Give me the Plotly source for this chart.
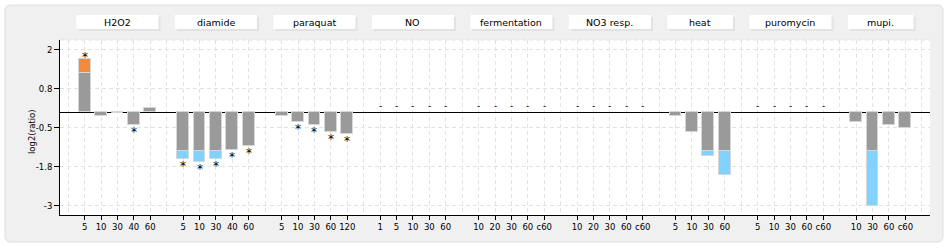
import plotly.graph_objects as go

# ---------------- data ----------------
groups = ["H2O2", "diamide", "paraquat", "NO", "fermentation",
          "NO3 resp.", "heat", "puromycin", "mupi."]

h2o2_times = ["5", "10", "30", "40", "60"]
h2o2_vals = [1.71, -0.12, -0.03, -0.40, 0.13]
h2o2_sig = [1, 0, 0, 1, 0]

diamide_times = ["5", "10", "30", "40", "60"]
diamide_vals = [-1.50, -1.60, -1.50, -1.21, -1.10]
diamide_sig = [1, 1, 1, 1, 1]

paraquat_times = ["5", "10", "30", "60", "120"]
paraquat_vals = [-0.11, -0.32, -0.40, -0.62, -0.70]
paraquat_sig = [0, 1, 1, 1, 1]

no_times = ["1", "5", "10", "30", "60"]
no_vals = [None, None, None, None, None]
no_sig = [0, 0, 0, 0, 0]

ferm_times = ["10", "20", "30", "60", "c60"]
ferm_vals = [None, None, None, None, None]
ferm_sig = [0, 0, 0, 0, 0]

no3_times = ["10", "20", "30", "60", "c60"]
no3_vals = [None, None, None, None, None]
no3_sig = [0, 0, 0, 0, 0]

heat_times = ["5", "10", "30", "60"]
heat_vals = [-0.11, -0.62, -1.40, -2.01]
heat_sig = [0, 0, 0, 0]

puro_times = ["5", "10", "30", "60", "c60"]
puro_vals = [None, None, None, None, None]
puro_sig = [0, 0, 0, 0, 0]

mupi_times = ["10", "30", "60", "c60"]
mupi_vals = [-0.32, -3.00, -0.40, -0.51]
mupi_sig = [0, 0, 0, 0]

threshold = 1.26

y_tickvals = [2, 0.75, -0.5, -1.75, -3]
y_ticktext = ["2", "0.8", "-0.5", "-1.8", "-3"]

group_times = [h2o2_times, diamide_times, paraquat_times, no_times, ferm_times,
               no3_times, heat_times, puro_times, mupi_times]
group_vals = [h2o2_vals, diamide_vals, paraquat_vals, no_vals, ferm_vals,
              no3_vals, heat_vals, puro_vals, mupi_vals]
group_sig = [h2o2_sig, diamide_sig, paraquat_sig, no_sig, ferm_sig,
             no3_sig, heat_sig, puro_sig, mupi_sig]

# ---------------- layout of slots ----------------
W, H = 950, 250
L, R, T, B = 60, 20, 40, 35
PW, PH = W - L - R, H - T - B

xs, labels, vals, sigs = [], [], [], []
group_span = []
slot = 1
for times, v, s in zip(group_times, group_vals, group_sig):
    start = slot
    for t, vv, ss in zip(times, v, s):
        xs.append(slot)
        labels.append(t)
        vals.append(vv)
        sigs.append(ss)
        slot += 1
    group_span.append((start, slot - 1))
    slot += 1
x_max = slot - 1  # last blank slot
x_range = [-0.5, x_max + 0.5]
y_range = [-3.30, 2.32]
slot_px = PW / (x_range[1] - x_range[0])

GREY = "#9a9a9a"
ORANGE = "#f58a3a"
BLUE = "#82d2ff"
EDGE = "#d6d6d6"
FONT = "DejaVu Sans"

base_x, base_y, pos_x, pos_y, neg_x, neg_y = [], [], [], [], [], []
for x, v in zip(xs, vals):
    if v is None:
        continue
    if abs(v) <= threshold:
        base_x.append(x); base_y.append(v)
    else:
        sgn = 1 if v > 0 else -1
        base_x.append(x); base_y.append(sgn * threshold)
        if v > 0:
            pos_x.append(x); pos_y.append(v - threshold)
        else:
            neg_x.append(x); neg_y.append(v + threshold)

fig = go.Figure()
bw = 0.72
for bx, by, col in [(base_x, base_y, GREY), (pos_x, pos_y, ORANGE), (neg_x, neg_y, BLUE)]:
    fig.add_trace(go.Bar(x=bx, y=by, width=bw, marker=dict(color=col, line=dict(color=EDGE, width=1)),
                         hoverinfo="skip", showlegend=False))

annotations = []
for x, v, s in zip(xs, vals, sigs):
    if v is None:
        annotations.append(dict(x=x, y=0, xref="x", yref="y", text="-", showarrow=False,
                                yshift=6, font=dict(family=FONT, size=9, color="black")))
    elif s:
        annotations.append(dict(x=x, y=v, xref="x", yref="y", text="*", showarrow=False,
                                yshift=(2 if v > 0 else -7),
                                font=dict(family=FONT, size=12, color="black")))

shapes = []
# panel background (rounded)
px0, px1 = (5 - L) / PW, (943 - L) / PW
py0, py1 = (T + PH - 242) / PH, (T + PH - 5) / PH
rx, ry = 6 / PW, 6 / PH
path = (f"M {px0+rx} {py1} L {px1-rx} {py1} Q {px1} {py1} {px1} {py1-ry} "
        f"L {px1} {py0+ry} Q {px1} {py0} {px1-rx} {py0} L {px0+rx} {py0} "
        f"Q {px0} {py0} {px0} {py0+ry} L {px0} {py1-ry} Q {px0} {py1} {px0+rx} {py1} Z")
shapes.append(dict(type="path", path=path, xref="paper", yref="paper", layer="below",
                   fillcolor="#f0f0f0", line=dict(color="#dedede", width=1)))
# white plot area
shapes.append(dict(type="rect", x0=0, x1=1, y0=0, y1=1, xref="paper", yref="paper",
                   layer="below", fillcolor="white", line=dict(width=0)))
# top dashed border
shapes.append(dict(type="line", x0=0, x1=1, y0=1, y1=1, xref="paper", yref="paper",
                   line=dict(color="#e2e2e2", width=1, dash="4px,3px")))

# header boxes
hy0 = (T + PH - 29) / PH
hy1 = (T + PH - 15) / PH
sh_y = 2 / PH
sh_x = 2 / slot_px
for name, (a, b) in zip(groups, group_span):
    shapes.append(dict(type="rect", x0=a - 0.5 + sh_x, x1=b + 0.5 + sh_x, y0=hy0 - sh_y, y1=hy1 - sh_y,
                       xref="x", yref="paper", layer="below", fillcolor="#e2e2e2", line=dict(width=0)))
    shapes.append(dict(type="rect", x0=a - 0.5, x1=b + 0.5, y0=hy0, y1=hy1,
                       xref="x", yref="paper", layer="below", fillcolor="white", line=dict(width=0)))
    annotations.append(dict(x=(a + b) / 2, y=(hy0 + hy1) / 2, xref="x", yref="paper", text=name,
                            showarrow=False, yanchor="middle",
                            font=dict(family=FONT, size=9.5, color="black")))

# y title
annotations.append(dict(x=(25 - L) / PW, y=(T + PH - 132) / PH, xref="paper", yref="paper",
                        text="log2(ratio)", textangle=-90, showarrow=False,
                        font=dict(family=FONT, size=8.5, color="black")))

fig.update_layout(
    width=W, height=H,
    margin=dict(l=L, r=R, t=T, b=B),
    paper_bgcolor="white", plot_bgcolor="rgba(0,0,0,0)",
    barmode="relative", bargap=0,
    shapes=shapes, annotations=annotations,
    font=dict(family=FONT, size=8.5, color="black"),
)
fig.update_xaxes(range=x_range, tickmode="array", tickvals=xs, ticktext=labels,
                 showgrid=True, gridcolor="#e2e2e2", griddash="4px,3px", gridwidth=1,
                 minor=dict(dtick=1, tick0=0, showgrid=True, gridcolor="#e2e2e2",
                            griddash="4px,3px", gridwidth=1),
                 showline=True, linecolor="black", linewidth=1,
                 ticks="outside", ticklen=4, tickcolor="black", tickwidth=1,
                 tickfont=dict(family=FONT, size=8.5, color="black"),
                 zeroline=False, fixedrange=True)
fig.update_yaxes(range=y_range, tickmode="array", tickvals=y_tickvals, ticktext=y_ticktext,
                 showgrid=True, gridcolor="#e2e2e2", griddash="4px,3px", gridwidth=1,
                 showline=True, linecolor="black", linewidth=1,
                 ticks="outside", ticklen=5, tickcolor="black", tickwidth=1,
                 tickfont=dict(family=FONT, size=8.5, color="black"),
                 zeroline=True, zerolinecolor="black", zerolinewidth=1, fixedrange=True)

fig.write_html("out.html")
